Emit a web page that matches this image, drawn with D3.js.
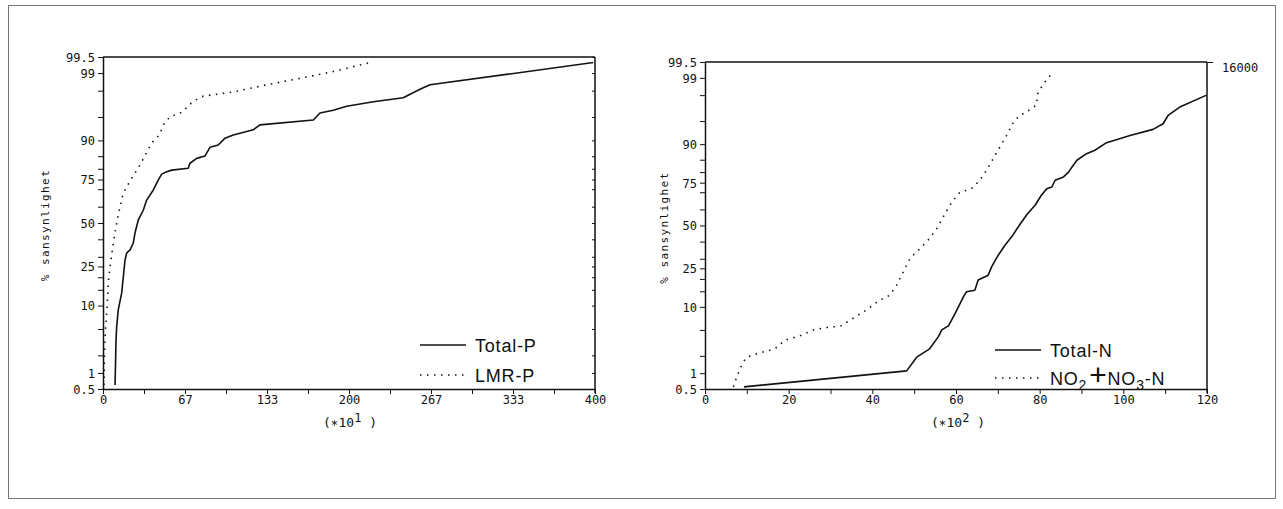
<!DOCTYPE html>
<html>
<head>
<meta charset="utf-8">
<script src="https://cdn.jsdelivr.net/npm/d3@7"></script>
<style>
  html, body { margin: 0; padding: 0; background: #fff; }
  svg { display: block; }
  .ax text { font-family: "DejaVu Sans Mono", monospace; font-size: 12px; fill: #111; }
  .ax path, .ax line { stroke: #111; }
  .ytitle { font-family: "DejaVu Sans Mono", monospace; font-size: 11px; letter-spacing: 1.4px; fill: #111; }
  .xtitle { font-family: "DejaVu Sans Mono", monospace; font-size: 13px; fill: #111; }
  .leg { font-family: "Liberation Sans", Arial, sans-serif; font-size: 18px; letter-spacing: 0.8px; fill: #111; }
</style>
</head>
<body>
<script>
// ---- data: cumulative probability (%) against concentration ----
// Left panel: phosphorus, x in units of 10^1
const totalP_x = [9.8, 10.6, 11.1, 12.4, 15.2, 17.9, 19.3, 22, 24.6, 26, 28.7, 32.8, 35.5, 40.9, 45, 47.7, 51.8, 55.9, 69.3, 70.7, 76.2, 82.9, 87, 93.7, 99.2, 105.9, 122.2, 127.6, 171, 176.4, 187.2, 198.1, 219.8, 244.1, 257.7, 265.9, 398.6];
const totalP_p = [0.6, 3.5, 5.3, 8.9, 13.9, 28.3, 32.1, 33.8, 37.8, 43.8, 51.9, 58.0, 63.9, 69.6, 74.8, 77.6, 78.7, 79.4, 80.2, 82.3, 84.2, 85.1, 88.0, 88.7, 90.6, 91.4, 92.6, 93.6, 94.5, 95.6, 96.0, 96.5, 97.0, 97.4, 98.1, 98.4, 99.36];
const lmrP_x = [0.8, 1.2, 2.0, 3.3, 4.5, 5.7, 8.4, 11.1, 13.8, 16.5, 22, 30.1, 39.6, 46.3, 49, 54.5, 65.3, 69.3, 76.2, 81.5, 105.9, 133.1, 160.2, 187.2, 217.1];
const lmrP_p = [0.6, 2.2, 4.9, 9.6, 18.8, 24.7, 37.8, 50, 59.8, 67.9, 74.3, 81.6, 89.3, 91.6, 93.6, 95.05, 95.8, 96.6, 97.25, 97.55, 97.9, 98.4, 98.76, 99.06, 99.36];

// Right panel: nitrogen, x in units of 10^2
const totalN_x = [9.3, 48.2, 50.6, 53.7, 55.8, 56.6, 58.2, 59.8, 61.8, 62.5, 64.5, 65.3, 67.7, 68.5, 70.1, 71.7, 73.4, 75.3, 77, 78.9, 80.4, 81.7, 82.9, 83.7, 85.7, 86.9, 87.7, 88.9, 91.2, 93.2, 96, 101.6, 107.1, 109.5, 110.7, 113.5, 119.9];
const totalN_p = [0.55, 1.1, 1.9, 2.6, 4.0, 5.0, 5.7, 8.3, 13.1, 14.8, 15.4, 19.5, 21.7, 25.7, 32, 37.8, 43.2, 50.8, 57, 62.5, 68.3, 71.9, 72.8, 76.2, 77.8, 80, 82.1, 84.8, 87.1, 88.2, 90.4, 92.2, 93.5, 94.55, 95.85, 96.9, 98.0];
const no23N_x = [6.8, 7.6, 8.4, 9.2, 10, 12.7, 16.7, 19.1, 22.7, 25.9, 29.1, 32.4, 35.4, 38.5, 41.8, 44.2, 45.8, 47.4, 49, 51.4, 53.7, 55.4, 57.4, 59, 61, 62.6, 63.7, 65.7, 67.3, 68.9, 70.5, 72.1, 73.7, 75.2, 76.8, 79.2, 79.6, 81.2, 83.2];
const no23N_p = [0.55, 0.86, 1.2, 1.6, 1.9, 2.2, 2.6, 3.55, 4.1, 5.0, 5.4, 5.65, 7.2, 9.1, 12.0, 13.6, 17.4, 23.3, 30.2, 35.8, 41.9, 48.1, 57.5, 64.4, 70.1, 71.05, 71.9, 76.2, 80.8, 85.4, 89.2, 92.2, 94.8, 95.85, 96.3, 97.1, 98.2, 98.8, 99.21];

// Axis ticks
const probMajor = [0.5, 1, 10, 25, 50, 75, 90, 99, 99.5];
const probMinor = [2, 5, 15, 20, 30, 40, 60, 70, 80, 85, 95, 98];
const leftXTicks = [0, 66.667, 133.333, 200, 266.667, 333.333, 400];
const leftXLabels = ["0", "67", "133", "200", "267", "333", "400"];
const rightXTicks = [0, 20, 40, 60, 80, 100, 120];
const rightXLabels = ["0", "20", "40", "60", "80", "100", "120"];
const rightAxisLabel = ["16000"];
const yTitle = "% sansynlighet";

// Inverse of the standard normal CDF (Acklam's rational approximation)
function probit(p) {
  const a = [-3.969683028665376e+01, 2.209460984245205e+02, -2.759285104469687e+02, 1.383577518672690e+02, -3.066479806614716e+01, 2.506628277459239e+00];
  const b = [-5.447609879822406e+01, 1.615858368580409e+02, -1.556989798598866e+02, 6.680131188771972e+01, -1.328068155288572e+01];
  const c = [-7.784894002430293e-03, -3.223964580411365e-01, -2.400758277161838e+00, -2.549732539343734e+00, 4.374664141464968e+00, 2.938163982698783e+00];
  const d = [7.784695709041462e-03, 3.224671290700398e-01, 2.445134137142996e+00, 3.754408661907416e+00];
  const plow = 0.02425, phigh = 1 - plow;
  if (p < plow) {
    const q = Math.sqrt(-2 * Math.log(p));
    return (((((c[0]*q+c[1])*q+c[2])*q+c[3])*q+c[4])*q+c[5]) / ((((d[0]*q+d[1])*q+d[2])*q+d[3])*q+1);
  }
  if (p <= phigh) {
    const q = p - 0.5, r = q * q;
    return (((((a[0]*r+a[1])*r+a[2])*r+a[3])*r+a[4])*r+a[5])*q / (((((b[0]*r+b[1])*r+b[2])*r+b[3])*r+b[4])*r+1);
  }
  const q = Math.sqrt(-2 * Math.log(1 - p));
  return -(((((c[0]*q+c[1])*q+c[2])*q+c[3])*q+c[4])*q+c[5]) / ((((d[0]*q+d[1])*q+d[2])*q+d[3])*q+1);
}
const z = pct => probit(pct / 100);

const W = 1283, H = 509;
const svg = d3.select("body").append("svg").attr("width", W).attr("height", H);

// outer frame
svg.append("rect").attr("x", 8.5).attr("y", 5.5).attr("width", 1267).attr("height", 493)
  .attr("fill", "none").attr("stroke", "#777").attr("stroke-width", 1);

function panel(o) {
  const g = svg.append("g");
  const x = d3.scaleLinear().domain(o.xDomain).range([o.left, o.right]);
  const y = d3.scaleLinear().domain([z(0.5), z(99.5)]).range([o.bottom, o.top]);

  // top and right frame
  g.append("line").attr("x1", o.left).attr("x2", o.right).attr("y1", o.top).attr("y2", o.top)
    .attr("stroke", "#111").attr("stroke-width", 1.5);
  g.append("line").attr("x1", o.right).attr("x2", o.right).attr("y1", o.top).attr("y2", o.bottom + 4)
    .attr("stroke", "#111").attr("stroke-width", 1.5);

  // y axis (probability scale)
  const allP = probMajor.concat(probMinor);
  const yAxis = d3.axisLeft(y).tickValues(allP.map(z)).tickSize(5).tickSizeOuter(0)
    .tickFormat((v, i) => i < probMajor.length ? String(probMajor[i]) : "");
  g.append("g").attr("class", "ax").attr("transform", `translate(${o.left},0)`).call(yAxis)
    .call(s => s.select(".domain").attr("stroke-width", 1.5))
    .call(s => s.selectAll("text").attr("dy", "0.36em"));

  // inward ticks on right border
  if (o.innerRightTicks) {
    const rAxis = d3.axisLeft(y).tickValues(allP.map(z)).tickSize(3).tickSizeOuter(0).tickFormat("");
    g.append("g").attr("class", "ax").attr("transform", `translate(${o.right},0)`).call(rAxis)
      .call(s => s.select(".domain").remove());
  }

  // x axis with labelled and minor ticks
  const step = (o.xTicks[1] - o.xTicks[0]) / 2;
  const xAll = d3.range(0, o.xTicks.length * 2 - 1).map(i => o.xDomain[0] + i * step);
  const xAxis = d3.axisBottom(x).tickValues(xAll).tickSize(5).tickSizeOuter(0)
    .tickFormat((v, i) => i % 2 === 0 ? o.xLabels[i / 2] : "");
  g.append("g").attr("class", "ax").attr("transform", `translate(0,${o.bottom})`).call(xAxis)
    .call(s => s.select(".domain").attr("stroke-width", 1.5))
    .call(s => s.selectAll("text").attr("dy", "0.55em"));

  // y title
  g.append("text").attr("class", "ytitle")
    .attr("transform", `translate(${o.titleX},${(o.top + o.bottom) / 2 + 2}) rotate(-90)`)
    .attr("text-anchor", "middle").text(yTitle);

  // x title: (*10^n )
  const xt = g.append("text").attr("class", "xtitle").attr("x", o.xTitleX).attr("y", o.bottom + 38)
    .attr("text-anchor", "middle");
  xt.append("tspan").text("(\u2217");
  xt.append("tspan").text("10");
  xt.append("tspan").attr("dy", -5).attr("font-size", "12px").text(o.exponent);
  xt.append("tspan").attr("dy", 5).text(" )");

  const line = d3.line().x(d => x(d[0])).y(d => y(z(d[1])));
  const solid = o.solidX.map((v, i) => [v, o.solidP[i]]);
  const dotted = o.dotX.map((v, i) => [v, o.dotP[i]]);

  g.append("path").datum(dotted).attr("d", line).attr("fill", "none")
    .attr("stroke", "#111").attr("stroke-width", 1.6).attr("stroke-dasharray", "1.5,5.5");
  g.append("path").datum(solid).attr("d", line).attr("fill", "none")
    .attr("stroke", "#111").attr("stroke-width", 1.6).attr("stroke-linejoin", "round");

  // legend
  const L = o.legend;
  g.append("line").attr("x1", L.x).attr("x2", L.x + 46).attr("y1", L.y1).attr("y2", L.y1)
    .attr("stroke", "#111").attr("stroke-width", 1.4);
  g.append("line").attr("x1", L.x).attr("x2", L.x + 46).attr("y1", L.y2).attr("y2", L.y2)
    .attr("stroke", "#111").attr("stroke-width", 1.6).attr("stroke-dasharray", "1.5,5.5");
  g.append("text").attr("class", "leg").attr("x", L.x + 55).attr("y", L.y1 + 7).text(L.solidName);
  const t2 = g.append("text").attr("class", "leg").attr("x", L.x + 55).attr("y", L.y2 + 7);
  L.dotName.forEach(part => {
    const ts = t2.append("tspan").text(part.t);
    if (part.sub) ts.attr("font-size", "14px").attr("dy", 5);
    if (part.back) ts.attr("dy", -5);
    if (part.big) ts.attr("font-size", "30px").attr("font-weight", 300).attr("dx", 2);
  });
  return { g, x, y };
}

panel({
  left: 103, right: 595, top: 57, bottom: 389, titleX: 49, xTitleX: 350,
  xDomain: [0, 400], xTicks: leftXTicks, xLabels: leftXLabels, exponent: "1",
  solidX: totalP_x, solidP: totalP_p, dotX: lmrP_x, dotP: lmrP_p, innerRightTicks: true,
  legend: { x: 420, y1: 345, y2: 375, solidName: "Total-P", dotName: [{ t: "LMR-P" }] }
});

const right = panel({
  left: 705, right: 1207, top: 62, bottom: 389, titleX: 668, xTitleX: 958,
  xDomain: [0, 120], xTicks: rightXTicks, xLabels: rightXLabels, exponent: "2",
  solidX: totalN_x, solidP: totalN_p, dotX: no23N_x, dotP: no23N_p, innerRightTicks: false,
  legend: { x: 995, y1: 350, y2: 378, solidName: "Total-N",
    dotName: [{ t: "NO" }, { t: "2", sub: true }, { t: "+", back: true, big: true }, { t: "NO" }, { t: "3", sub: true }, { t: "-N", back: true }] }
});

// right-hand axis with its single top label
const rAxis = d3.axisRight(right.y).tickValues([z(99.5)]).tickSize(6).tickSizeOuter(0)
  .tickFormat(() => rightAxisLabel[0]);
right.g.append("g").attr("class", "ax").attr("transform", "translate(1207,0)").call(rAxis)
  .call(s => s.select(".domain").remove())
  .call(s => s.selectAll("text").attr("dy", "0.8em").attr("x", 15));
</script>
</body>
</html>
